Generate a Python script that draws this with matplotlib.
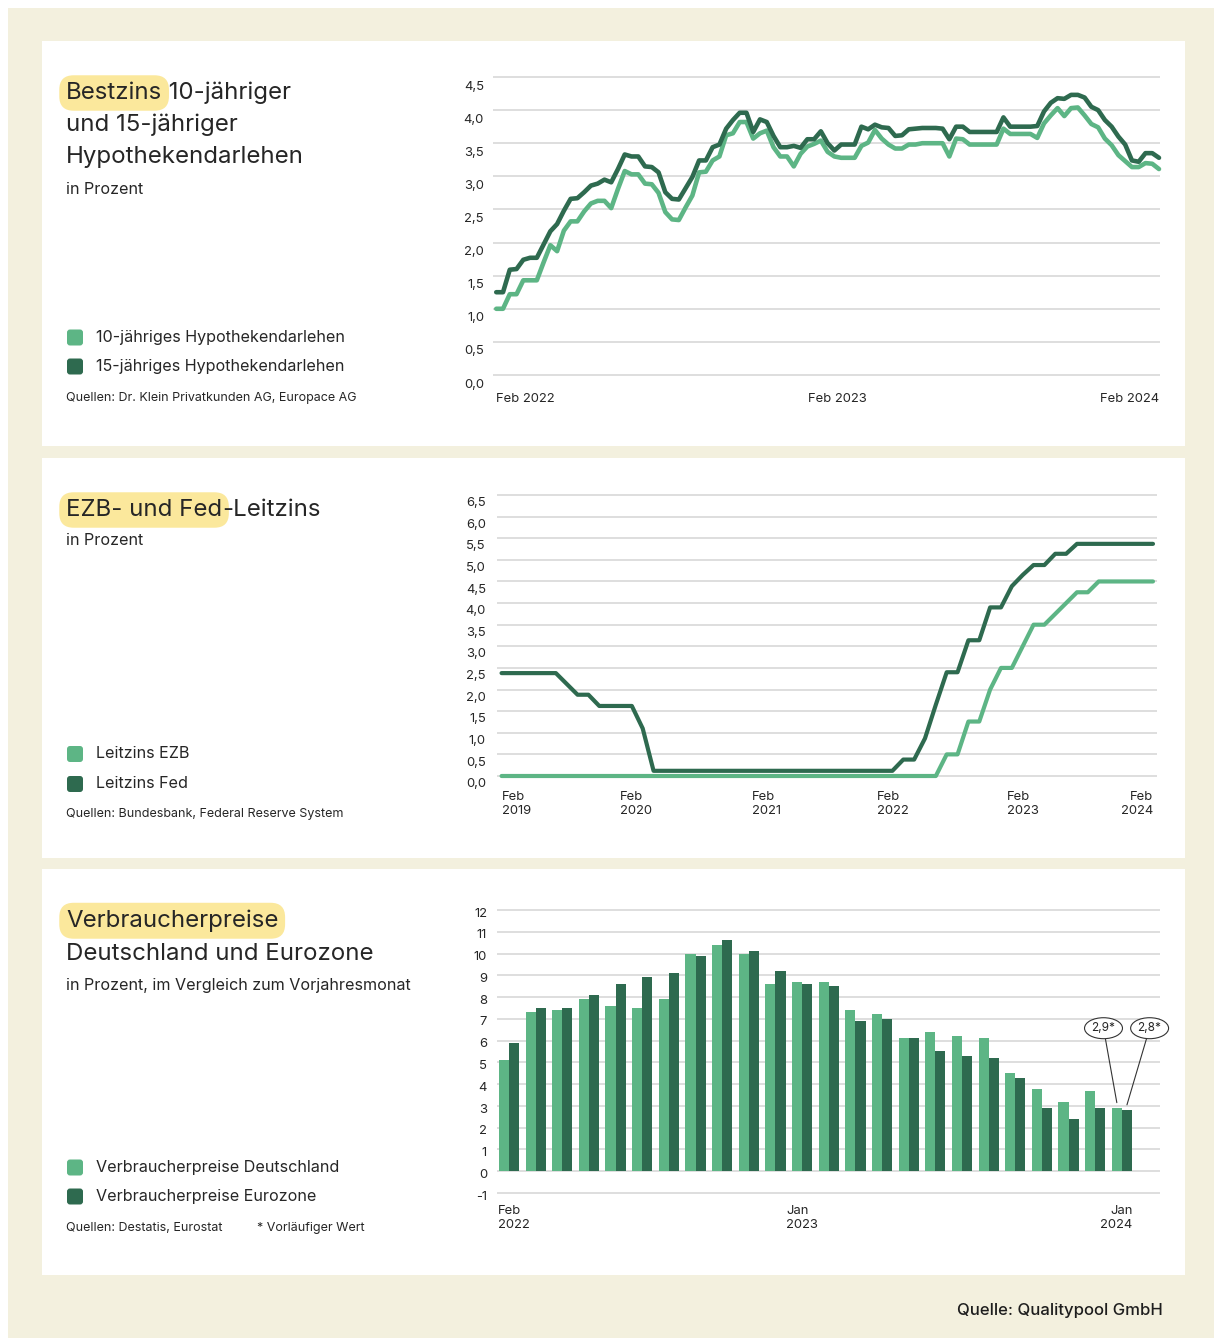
import numpy as np
import matplotlib
matplotlib.use("Agg")
import matplotlib.pyplot as plt
import matplotlib.transforms as mtransforms
from matplotlib.patches import Rectangle, FancyBboxPatch

plt.rcParams['font.family'] = ['Inter', 'DejaVu Sans']

# ---------------- data ----------------
# Chart 1: Bestzins (weekly-ish samples, Feb 2022 - Feb 2024)
hypo_10 = [1.00, 1.00, 1.22, 1.22, 1.43, 1.43, 1.43, 1.70, 1.96, 1.87,
           2.18, 2.32, 2.32, 2.47, 2.59, 2.63, 2.63, 2.52, 2.81, 3.08,
           3.03, 3.03, 2.89, 2.88, 2.75, 2.46, 2.35, 2.34, 2.53, 2.71,
           3.06, 3.07, 3.24, 3.30, 3.62, 3.65, 3.82, 3.82, 3.57, 3.65,
           3.69, 3.44, 3.30, 3.30, 3.15, 3.34, 3.45, 3.49, 3.54, 3.37,
           3.30, 3.28, 3.28, 3.28, 3.46, 3.51, 3.70, 3.57, 3.48, 3.42,
           3.42, 3.48, 3.48, 3.50, 3.50, 3.50, 3.50, 3.30, 3.57, 3.56,
           3.48, 3.48, 3.48, 3.48, 3.48, 3.72, 3.64, 3.64, 3.64, 3.64,
           3.58, 3.80, 3.92, 4.03, 3.91, 4.03, 4.04, 3.92, 3.79, 3.74,
           3.57, 3.47, 3.32, 3.23, 3.14, 3.14, 3.20, 3.19, 3.11]
hypo_15 = [1.25, 1.25, 1.59, 1.60, 1.74, 1.77, 1.77, 1.97, 2.17, 2.28,
           2.48, 2.66, 2.67, 2.76, 2.86, 2.89, 2.95, 2.91, 3.11, 3.33,
           3.30, 3.30, 3.15, 3.14, 3.06, 2.76, 2.66, 2.65, 2.82, 2.99,
           3.24, 3.24, 3.44, 3.48, 3.72, 3.85, 3.96, 3.96, 3.67, 3.86,
           3.82, 3.61, 3.44, 3.44, 3.46, 3.43, 3.56, 3.56, 3.68, 3.50,
           3.39, 3.48, 3.48, 3.48, 3.75, 3.71, 3.78, 3.74, 3.73, 3.61,
           3.62, 3.71, 3.72, 3.73, 3.73, 3.73, 3.72, 3.56, 3.75, 3.75,
           3.67, 3.67, 3.67, 3.67, 3.67, 3.89, 3.75, 3.75, 3.75, 3.75,
           3.76, 3.98, 4.11, 4.18, 4.17, 4.23, 4.23, 4.19, 4.05, 4.00,
           3.85, 3.75, 3.60, 3.48, 3.24, 3.22, 3.35, 3.35, 3.28]
hypo_xticks = [0, 50.4, 98]
hypo_xlabels = ['Feb 2022', 'Feb 2023', 'Feb 2024']
hypo_yticks = [0.0, 0.5, 1.0, 1.5, 2.0, 2.5, 3.0, 3.5, 4.0, 4.5]
hypo_ylabels = ['0,0', '0,5', '1,0', '1,5', '2,0', '2,5', '3,0', '3,5', '4,0', '4,5']

# Chart 2: Leitzins (monthly Feb 2019 - Feb 2024)
ezb = [0.0] * 41 + [0.50, 0.50, 1.26, 1.26, 2.0, 2.5, 2.5, 3.0, 3.5, 3.5,
                     3.75, 4.0, 4.25, 4.25, 4.5, 4.5, 4.5, 4.5, 4.5, 4.5]
fed = ([2.38] * 6 + [2.13, 1.88, 1.88] + [1.62] * 4 + [1.10] + [0.12] * 23 +
       [0.38, 0.38, 0.87, 1.65, 2.40, 2.40, 3.14, 3.14, 3.90, 3.90, 4.39,
        4.65, 4.88, 4.88, 5.14, 5.14] + [5.37] * 8)
zins_xticks = [0, 12.4, 24.4, 36, 48, 60]
zins_xlabels = ['Feb\n2019', 'Feb\n2020', 'Feb\n2021', 'Feb\n2022', 'Feb\n2023', 'Feb\n2024']
zins_yticks = [0.0, 0.5, 1.0, 1.5, 2.0, 2.5, 3.0, 3.5, 4.0, 4.5, 5.0, 5.5, 6.0, 6.5]
zins_ylabels = ['0,0', '0,5', '1,0', '1,5', '2,0', '2,5', '3,0', '3,5', '4,0', '4,5',
                '5,0', '5,5', '6,0', '6,5']

# Chart 3: Verbraucherpreise (Feb 2022 - Jan 2024)
vpi_months = ['Feb 22', 'Mär 22', 'Apr 22', 'Mai 22', 'Jun 22', 'Jul 22', 'Aug 22',
              'Sep 22', 'Okt 22', 'Nov 22', 'Dez 22', 'Jan 23', 'Feb 23', 'Mär 23',
              'Apr 23', 'Mai 23', 'Jun 23', 'Jul 23', 'Aug 23', 'Sep 23', 'Okt 23',
              'Nov 23', 'Dez 23', 'Jan 24']
vpi_de = [5.1, 7.3, 7.4, 7.9, 7.6, 7.5, 7.9, 10.0, 10.4, 10.0, 8.6, 8.7,
          8.7, 7.4, 7.2, 6.1, 6.4, 6.2, 6.1, 4.5, 3.8, 3.2, 3.7, 2.9]
vpi_ez = [5.9, 7.5, 7.5, 8.1, 8.6, 8.9, 9.1, 9.9, 10.6, 10.1, 9.2, 8.6,
          8.5, 6.9, 7.0, 6.1, 5.5, 5.3, 5.2, 4.3, 2.9, 2.4, 2.9, 2.8]
vpi_xticks = [-0.4, 11, 23.4]
vpi_xlabels = ['Feb\n2022', 'Jan\n2023', 'Jan\n2024']
vpi_yticks = list(range(-1, 13))
vpi_ylabels = [str(v) for v in vpi_yticks]
vpi_notes = ['2,9*', '2,8*']

# ---------------- style ----------------
W, H, DPI = 1214, 1338, 100
CREAM = '#f3f0de'
LIGHT = '#5db585'
DARK = '#2e6a4f'
GRID = '#d4d4d4'
TXT = '#262626'
HL = '#fbe89c'

fig = plt.figure(figsize=(W / DPI, H / DPI), dpi=DPI, facecolor='white')
bg = fig.add_axes([0, 0, 1, 1])
bg.set_xlim(0, W)
bg.set_ylim(H, 0)
bg.axis('off')
bg.add_patch(Rectangle((8, 8), W - 8, H - 8, fc=CREAM, ec='none'))
for top, bottom in [(41, 446), (458, 858), (869, 1275)]:
    bg.add_patch(Rectangle((42, top), 1143, bottom - top, fc='white', ec='none'))

TS = 17.3


def title_line(x, y, text, hl=None):
    if hl:
        t = bg.text(x, y, hl, fontsize=TS, va='baseline', ha='left', color=TXT,
                    bbox=dict(boxstyle='round,pad=0.28,rounding_size=0.6', fc=HL, ec='none'))
        if text:
            bg.annotate(text, xy=(1, 0), xycoords=t, va='bottom', ha='left',
                        fontsize=TS, color=TXT)
    else:
        bg.text(x, y, text, fontsize=TS, va='baseline', ha='left', color=TXT)


def legend_item(y, color, label):
    bg.add_patch(FancyBboxPatch((67, y - 8), 16, 16,
                                boxstyle='round,pad=0,rounding_size=3',
                                fc=color, ec='none'))
    bg.text(96, y, label, fontsize=11.6, va='center', ha='left', color=TXT)


def sub(y, text):
    bg.text(66, y, text, fontsize=11.6, va='baseline', ha='left', color=TXT)


def source(y, text, x=66):
    bg.text(x, y, text, fontsize=9.0, va='center', ha='left', color=TXT)


# panel 1 texts
title_line(66, 99, ' 10-jähriger', hl='Bestzins')
title_line(66, 131, 'und 15-jähriger')
title_line(66, 163, 'Hypothekendarlehen')
sub(194, 'in Prozent')
legend_item(337.5, LIGHT, '10-jähriges Hypothekendarlehen')
legend_item(366.5, DARK, '15-jähriges Hypothekendarlehen')
source(398, 'Quellen: Dr. Klein Privatkunden AG, Europace AG')

# panel 2 texts
title_line(66, 516, '-Leitzins', hl='EZB- und Fed')
sub(545, 'in Prozent')
legend_item(754, LIGHT, 'Leitzins EZB')
legend_item(784, DARK, 'Leitzins Fed')
source(814, 'Quellen: Bundesbank, Federal Reserve System')

# panel 3 texts
title_line(66, 927, '', hl='Verbraucherpreise')
title_line(66, 960, 'Deutschland und Eurozone')
sub(990, 'in Prozent, im Vergleich zum Vorjahresmonat')
legend_item(1167.5, LIGHT, 'Verbraucherpreise Deutschland')
legend_item(1196.5, DARK, 'Verbraucherpreise Eurozone')
source(1228, 'Quellen: Destatis, Eurostat')
source(1228, '* Vorläufiger Wert', x=257)

bg.text(1163, 1310, 'Quelle: Qualitypool GmbH', fontsize=12, va='center', ha='right',
        color='#1e1e1e', fontweight='medium')


def make_axes(px_l, px_r, px_t, px_b, xlim, ylim, m=2):
    """Axes whose gridline extent is px_l..px_r, px_t..px_b (pixels)."""
    dy = (ylim[1] - ylim[0]) / (px_b - px_t)
    ax = fig.add_axes([px_l / W, 1 - (px_b + m) / H, (px_r - px_l) / W,
                       (px_b - px_t + 2 * m) / H])
    ax.set_xlim(*xlim)
    ax.set_ylim(ylim[0] - m * dy, ylim[1] + m * dy)
    ax.set_facecolor('none')
    for s in ax.spines.values():
        s.set_visible(False)
    return ax


def style_ticks(ax, yt, yl, ydy, ypad, xt, xl, xpad, has):
    ax.set_yticks(yt)
    ax.set_yticklabels(yl)
    ax.set_xticks(xt)
    ax.set_xticklabels(xl)
    ax.tick_params(axis='both', length=0, labelsize=9.4, labelcolor=TXT)
    ax.tick_params(axis='y', pad=ypad)
    ax.tick_params(axis='x', pad=xpad)
    ax.grid(axis='y', color=GRID, lw=1.1)
    ax.grid(axis='x', visible=False)
    ax.set_axisbelow(True)
    off = mtransforms.ScaledTranslation(0, -ydy / 72, fig.dpi_scale_trans)
    for lab in ax.get_yticklabels():
        lab.set_transform(lab.get_transform() + off)
    for lab, ha in zip(ax.get_xticklabels(), has):
        lab.set_ha(ha)
        lab.set_multialignment(ha if ha != 'center' else 'left')
        lab.set_linespacing(1.25)


# ---- chart 1 ----
ax1 = make_axes(493, 1160, 77, 375, (-0.48, 98.15), (0, 4.5))
x1 = np.arange(len(hypo_10))
ax1.plot(x1, hypo_10, color=LIGHT, lw=3.3, solid_joinstyle='round',
         solid_capstyle='round', clip_on=False)
ax1.plot(x1, hypo_15, color=DARK, lw=3.3, solid_joinstyle='round',
         solid_capstyle='round', clip_on=False)
style_ticks(ax1, hypo_yticks, hypo_ylabels, 5.8, 6.5, hypo_xticks, hypo_xlabels, 11.5,
            ['left', 'center', 'right'])

# ---- chart 2 ----
ax2 = make_axes(497, 1157, 495, 776, (-0.42, 60.37), (0, 6.5))
x2 = np.arange(len(ezb))
ax2.plot(x2, ezb, color=LIGHT, lw=3.0, solid_joinstyle='round',
         solid_capstyle='round', clip_on=False)
ax2.plot(x2, fed, color=DARK, lw=3.0, solid_joinstyle='round',
         solid_capstyle='round', clip_on=False)
style_ticks(ax2, zins_yticks, zins_ylabels, 4.8, 8, zins_xticks, zins_xlabels, 9.2,
            ['left', 'center', 'center', 'center', 'center', 'right'])

# ---- chart 3 ----
ax3 = make_axes(497, 1160, 910, 1193, (-0.45, 24.43), (-1, 12))
x3 = np.arange(len(vpi_months))
bw = 0.38
ax3.bar(x3 - bw / 2, vpi_de, bw, color=LIGHT, zorder=2)
ax3.bar(x3 + bw / 2, vpi_ez, bw, color=DARK, zorder=2)
style_ticks(ax3, vpi_yticks, vpi_ylabels, 1.5, 7.2, vpi_xticks, vpi_xlabels, 7.2,
            ['left', 'center', 'right'])

last = len(vpi_months) - 1
for (xb, val, note, tx) in [(last - bw / 2, vpi_de[last], vpi_notes[0], 22.31),
                            (last + bw / 2, vpi_ez[last], vpi_notes[1], 24.04)]:
    ax3.annotate(note, xy=(xb, val + 0.25), xytext=(tx, 6.57), textcoords='data',
                 fontsize=8.5, color=TXT, ha='center', va='center', annotation_clip=False,
                 bbox=dict(boxstyle='ellipse,pad=0.12', fc='white', ec='#333333', lw=0.8),
                 arrowprops=dict(arrowstyle='-', color='#333333', lw=0.8,
                                 shrinkA=0, shrinkB=0))

fig.savefig('out.png', dpi=DPI, facecolor=fig.get_facecolor())
